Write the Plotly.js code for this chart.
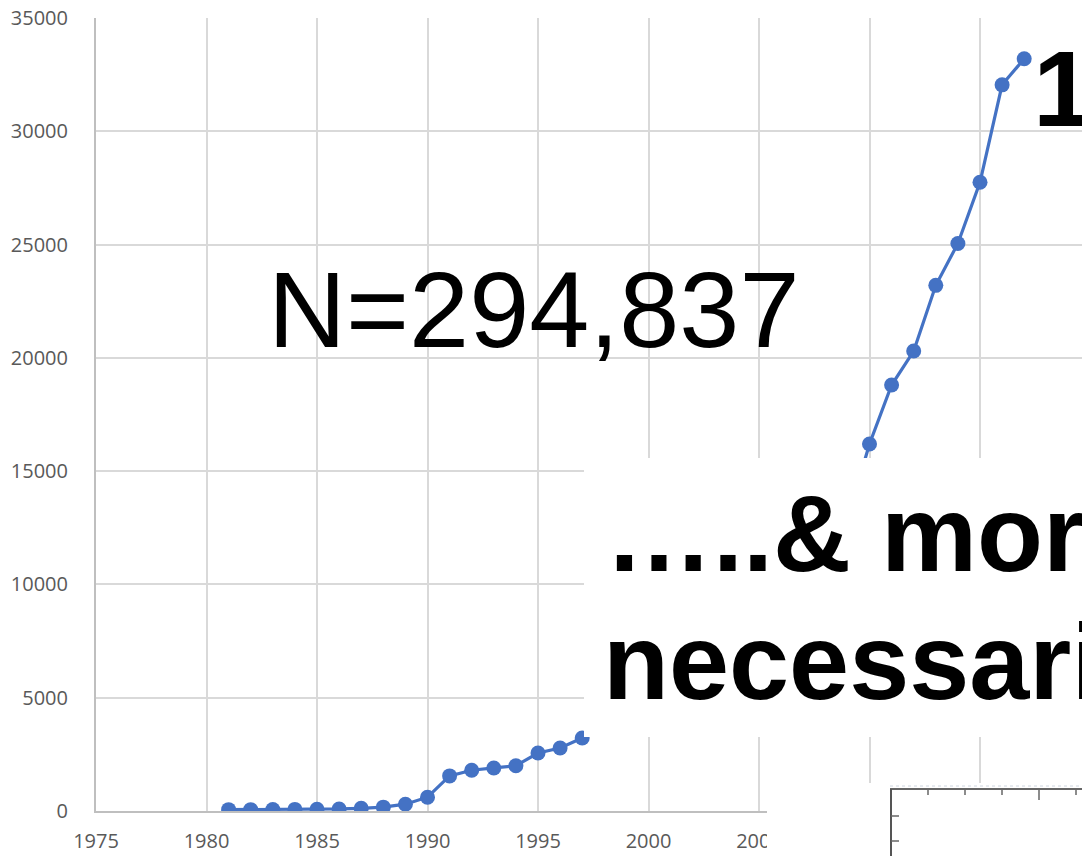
<!DOCTYPE html>
<html>
<head>
<meta charset="utf-8">
<script src="https://cdn.plot.ly/plotly-3.0.1.min.js"></script>
<style>html,body{margin:0;padding:0;background:#fff;overflow:hidden}#chart{width:1082px;height:856px}</style>
</head>
<body>
<div id="chart"></div>
<script>
// Data (1998-2009 hidden behind the box, estimated)
const years = [1981,1982,1983,1984,1985,1986,1987,1988,1989,1990,1991,1992,1993,1994,1995,1996,1997,
  1998,1999,2000,2001,2002,2003,2004,2005,2006,2007,2008,2009,
  2010,2011,2012,2013,2014,2015,2016,2017];
const counts = [60,60,65,70,75,90,120,170,300,610,1550,1800,1900,2000,2560,2780,3220,
  3600,4000,4300,4700,5200,5800,6400,7100,8000,9300,10900,12900,
  16200,18800,20300,23200,25050,27750,32050,33200];
const xTickVals = [1975,1980,1985,1990,1995,2000,2005,2010,2015];
const yTickVals = [0,5000,10000,15000,20000,25000,30000,35000];
const nLabel = "N=294,837";
const topLabel = "1";
const boxLine1 = "…..& more";
const boxLine2 = "necessarily";

// pixel -> paper helpers (layout geometry)
const W = 1082, H = 856, ML = 96, MT = 18, MB = 45, MR = 0;
const PW = W - ML - MR, PH = H - MT - MB;
const px = p => (p - ML) / PW;
const py = p => (H - MB - p) / PH;

const trace = {
  x: years, y: counts, type: 'scatter', mode: 'lines+markers',
  line: {color: '#4472C4', width: 3.2},
  marker: {color: '#4472C4', size: 15},
  hoverinfo: 'x+y'
};

const tickFont = {family: 'Open Sans, Liberation Sans, Arial, sans-serif', size: 20, color: '#595959'};

const shapes = [
  {type: 'rect', xref: 'paper', yref: 'paper', x0: px(584), x1: px(1100), y0: py(737), y1: py(458),
   fillcolor: '#ffffff', line: {width: 0}, layer: 'above'},
  {type: 'rect', xref: 'paper', yref: 'paper', x0: px(767), x1: px(1100), y0: py(880), y1: py(783),
   fillcolor: '#ffffff', line: {width: 0}, layer: 'above'},
  {type: 'line', xref: 'paper', yref: 'paper', x0: px(890), x1: px(1100), y0: py(789), y1: py(789),
   line: {color: '#666666', width: 2}, layer: 'above'},
  {type: 'line', xref: 'paper', yref: 'paper', x0: px(891), x1: px(891), y0: py(789), y1: py(880),
   line: {color: '#555555', width: 2}, layer: 'above'},
  {type: 'line', xref: 'paper', yref: 'paper', x0: px(890), x1: px(1100), y0: py(786), y1: py(786),
   line: {color: '#cfd6e0', width: 1, dash: 'dot'}, layer: 'above'}
];
[928, 965, 1002, 1076].forEach(t => shapes.push({type: 'line', xref: 'paper', yref: 'paper',
  x0: px(t), x1: px(t), y0: py(789), y1: py(795), line: {color: '#666666', width: 1.5}, layer: 'above'}));
shapes.push({type: 'line', xref: 'paper', yref: 'paper', x0: px(1039), x1: px(1039), y0: py(789), y1: py(800),
  line: {color: '#666666', width: 1.5}, layer: 'above'});
[816, 841].forEach(t => shapes.push({type: 'line', xref: 'paper', yref: 'paper',
  x0: px(891), x1: px(899), y0: py(t), y1: py(t), line: {color: '#666666', width: 1.5}, layer: 'above'}));

const bigFont = {family: 'Liberation Sans, Arial, sans-serif', size: 108, color: '#000000'};
const annotations = [
  {text: nLabel, xref: 'paper', yref: 'paper', x: px(266), y: py(309), xanchor: 'left', yanchor: 'middle',
   showarrow: false, font: bigFont},
  {text: '<b>' + topLabel + '</b>', xref: 'paper', yref: 'paper', x: px(1031), y: py(88), xanchor: 'left', yanchor: 'middle',
   showarrow: false, font: bigFont},
  {text: '<b>' + boxLine1 + '</b>', xref: 'paper', yref: 'paper', x: px(603), y: py(533), xanchor: 'left', yanchor: 'middle',
   showarrow: false, font: bigFont},
  {text: '<b>' + boxLine2 + '</b>', xref: 'paper', yref: 'paper', x: px(601), y: py(661), xanchor: 'left', yanchor: 'middle',
   showarrow: false, font: bigFont}
];

const layout = {
  width: W, height: H,
  margin: {l: ML, r: MR, t: MT, b: MB, pad: 0},
  paper_bgcolor: '#ffffff', plot_bgcolor: '#ffffff',
  showlegend: false,
  xaxis: {
    range: [1975, 1975 + PW / 22.1], tickvals: xTickVals, ticktext: xTickVals.map(String),
    showgrid: true, gridcolor: '#d9d9d9', gridwidth: 2,
    showline: true, linecolor: '#bfbfbf', linewidth: 2,
    zeroline: false, ticks: '', tickfont: tickFont, ticklabelstandoff: 11
  },
  yaxis: {
    range: [0, 35000], tickvals: yTickVals, ticktext: yTickVals.map(String),
    showgrid: true, gridcolor: '#d9d9d9', gridwidth: 2,
    showline: true, linecolor: '#bfbfbf', linewidth: 2,
    zeroline: false, ticks: '', tickfont: tickFont, ticklabelstandoff: 22
  },
  shapes: shapes,
  annotations: annotations
};

Plotly.newPlot('chart', [trace], layout, {staticPlot: true, displayModeBar: false});
</script>
</body>
</html>
